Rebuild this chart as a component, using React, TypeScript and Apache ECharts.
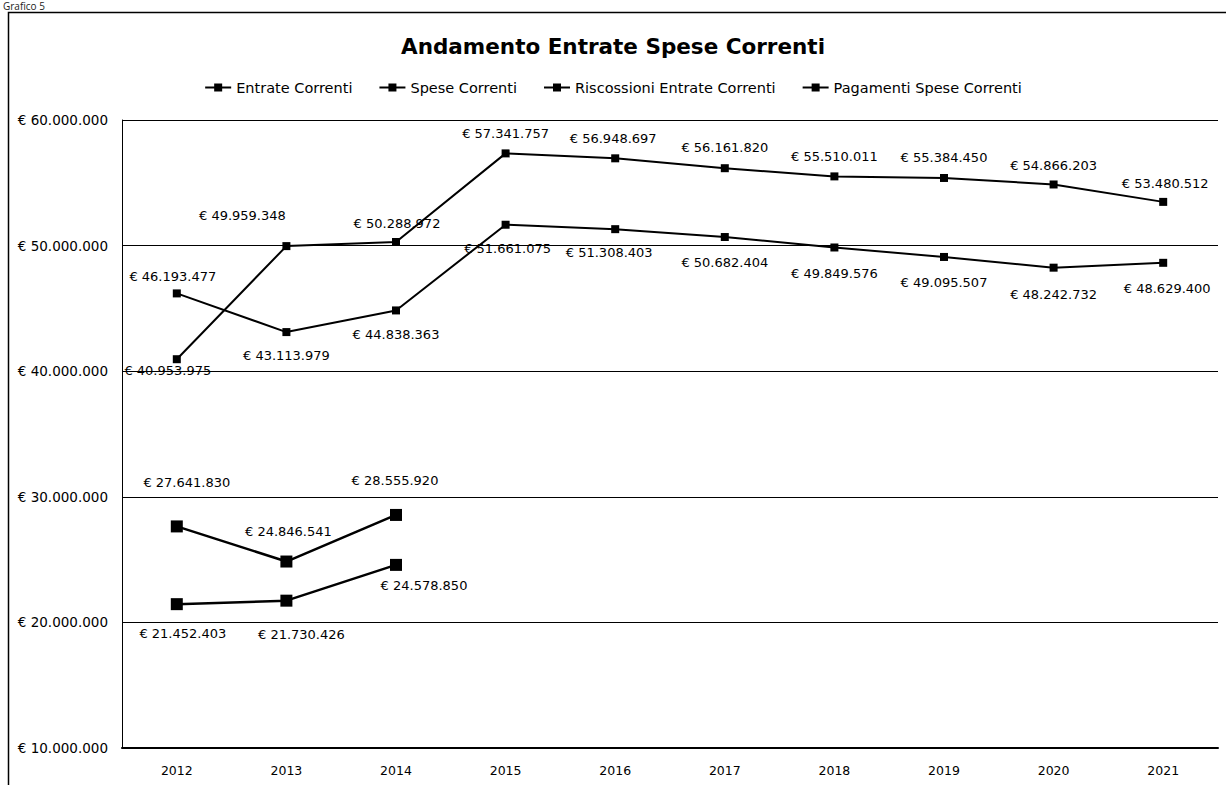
import React, { useEffect, useRef } from "react";
import * as echarts from "echarts";

const years = ["2012", "2013", "2014", "2015", "2016", "2017", "2018", "2019", "2020", "2021"];
const entrateCorrenti = [40953975, 49959348, 50288972, 57341757, 56948697, 56161820, 55510011, 55384450, 54866203, 53480512];
const speseCorrenti = [46193477, 43113979, 44838363, 51661075, 51308403, 50682404, 49849576, 49095507, 48242732, 48629400];
const riscossioniEntrate = [27641830, 24846541, 28555920];
const pagamentiSpese = [21452403, 21730426, 24578850];

const yTicks = { min: 10000000, max: 60000000, interval: 10000000 };

// label placement (offset from the point, in pixels)
const entrateLabelOffsets = [[-9, 11], [-44, -31], [1, -18], [0, -20], [-2, -20], [0, -21], [0, -20], [0, -20], [0, -19], [2, -18]];
const speseLabelOffsets = [[-4, -17], [0, 23], [0, 24], [2, 24], [-6, 23], [0, 25], [0, 26], [0, 26], [0, 27], [4, 26]];
const riscossioniLabelOffsets = [[10, -44], [2, -30], [-1, -34]];
const pagamentiLabelOffsets = [[6, 29], [15, 34], [28, 21]];

const FONT = "DejaVu Sans";

function euro(v: number): string {
  const s = Math.round(v).toString().replace(/\B(?=(\d{3})+(?!\d))/g, ".");
  return "€ " + s;
}

function withLabels(values: number[], offsets: number[][]) {
  return values.map((v, i) => ({
    value: v,
    label: { offset: offsets[i] },
  }));
}

function lineSeries(name: string, values: number[], offsets: number[][], symbolSize: number, width: number) {
  return {
    name,
    type: "line",
    data: withLabels(values, offsets),
    symbol: "rect",
    symbolSize,
    showAllSymbol: true,
    itemStyle: { color: "#000" },
    lineStyle: { color: "#000", width },
    label: {
      show: true,
      position: "inside",
      formatter: (p: any) => euro(p.value),
      color: "#000",
      fontFamily: FONT,
      fontSize: 13,
    },
    emphasis: { disabled: true },
  };
}

export default function App() {
  const ref = useRef<HTMLDivElement>(null);
  useEffect(() => {
    if (!ref.current) return;
    const chart = echarts.init(ref.current, undefined, { renderer: "svg" });
    chart.setOption({
      animation: false,
      backgroundColor: "#fff",
      textStyle: { fontFamily: FONT },
      title: {
        text: "Andamento Entrate Spese Correnti",
        left: "center",
        top: 30,
        textStyle: { fontFamily: FONT, fontWeight: "bold", fontSize: 21.5, color: "#000" },
      },
      legend: {
        top: 75,
        left: "center",
        itemGap: 26,
        itemWidth: 26,
        itemHeight: 10,
        textStyle: { fontFamily: FONT, fontSize: 14.5, color: "#000" },
        data: ["Entrate Correnti", "Spese Correnti", "Riscossioni Entrate Correnti", "Pagamenti Spese Correnti"],
      },
      grid: { left: 122, right: 8, top: 120, bottom: 37 },
      xAxis: {
        type: "category",
        data: years,
        boundaryGap: true,
        axisLine: { lineStyle: { color: "#000", width: 2 } },
        axisTick: { show: false },
        axisLabel: { color: "#000", fontFamily: FONT, fontSize: 12.5, margin: 16 },
      },
      yAxis: {
        type: "value",
        min: yTicks.min,
        max: yTicks.max,
        interval: yTicks.interval,
        axisLine: { show: true, lineStyle: { color: "#000", width: 1 } },
        axisTick: { show: false },
        splitLine: { show: true, lineStyle: { color: "#000", width: 1 } },
        axisLabel: {
          color: "#000",
          fontFamily: FONT,
          fontSize: 13.5,
          margin: 14,
          formatter: (v: number) => euro(v),
        },
      },
      graphic: [
        {
          type: "rect",
          shape: { x: 8.5, y: 12.5, width: 1230, height: 800 },
          style: { fill: "none", stroke: "#000", lineWidth: 1.5 },
          silent: true,
        },
        {
          type: "text",
          left: 3,
          top: 1,
          style: { text: "Grafico 5", font: "10px 'Open Sans'", fill: "#222" },
          silent: true,
        },
      ],
      series: [
        lineSeries("Entrate Correnti", entrateCorrenti, entrateLabelOffsets, 8, 2),
        lineSeries("Spese Correnti", speseCorrenti, speseLabelOffsets, 8, 2),
        lineSeries("Riscossioni Entrate Correnti", riscossioniEntrate, riscossioniLabelOffsets, 12, 2.5),
        lineSeries("Pagamenti Spese Correnti", pagamentiSpese, pagamentiLabelOffsets, 12, 2.5),
      ],
    });
    return () => chart.dispose();
  }, []);
  return (
    <div
      ref={ref}
      style={{ position: "absolute", left: 0, top: 0, width: 1226, height: 785 }}
    />
  );
}
